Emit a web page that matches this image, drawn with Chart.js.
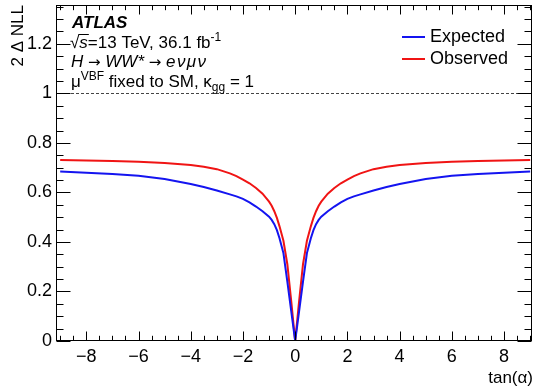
<!DOCTYPE html>
<html>
<head>
<meta charset="utf-8">
<title>2 Delta NLL vs tan(alpha)</title>
<script src="https://cdn.jsdelivr.net/npm/chart.js@4"></script>
<style>
	body { margin: 0; background: #ffffff; }
	#chartBox { width: 535px; height: 387px; }
</style>
</head>
<body>
<div id="chartBox"><canvas id="nllChart" width="535" height="387"></canvas></div>
<script>
// scan points in tan(alpha)
const tanAlpha = [-9, -8, -7, -6, -5, -4, -3.5, -3, -2.5, -2.25, -2, -1.75, -1.5, -1.25, -1, -0.9, -0.8, -0.7, -0.6, -0.45, -0.3, -0.15, 0,
	0.15, 0.3, 0.45, 0.6, 0.7, 0.8, 0.9, 1, 1.25, 1.5, 1.75, 2, 2.25, 2.5, 3, 3.5, 4, 5, 6, 7, 8, 9];

// 2 delta NLL, expected
const expectedNll = [0.685, 0.680, 0.674, 0.667, 0.654, 0.634, 0.622, 0.608, 0.592, 0.584, 0.574, 0.560, 0.543, 0.524, 0.502, 0.489, 0.472, 0.448, 0.415, 0.355, 0.240, 0.120, 0,
	0.120, 0.240, 0.355, 0.415, 0.448, 0.472, 0.489, 0.502, 0.524, 0.543, 0.560, 0.574, 0.584, 0.592, 0.608, 0.622, 0.634, 0.654, 0.667, 0.674, 0.680, 0.685];

// 2 delta NLL, observed
const observedNll = [0.731, 0.729, 0.727, 0.724, 0.719, 0.711, 0.704, 0.694, 0.677, 0.666, 0.652, 0.637, 0.618, 0.595, 0.563, 0.546, 0.524, 0.497, 0.463, 0.405, 0.310, 0.160, 0,
	0.160, 0.310, 0.405, 0.463, 0.497, 0.524, 0.546, 0.563, 0.595, 0.618, 0.637, 0.652, 0.666, 0.677, 0.694, 0.704, 0.711, 0.719, 0.724, 0.727, 0.729, 0.731];

const seriesNames = ["Expected", "Observed"];
const seriesColors = ["#1414f0", "#f01414"];

const xMin = -9.16, xMax = 9.07;
const yMin = 0, yMax = 1.357;
const xStep = 2, yStep = 0.2;

const fontFamily = "'Liberation Sans', Arial, Helvetica, sans-serif";

function toPoints(values){
	let pts = [];
	for(let i=0; i<tanAlpha.length; i++){
		pts.push({x: tanAlpha[i], y: values[i]});
	}
	return pts;
}

// draws a row of text pieces (normal, sup, sub) starting at x
function drawRuns(ctx, x, y, runs){
	ctx.textBaseline = "alphabetic";
	ctx.textAlign = "left";
	runs.forEach(r => {
		ctx.font = r.font;
		ctx.fillText(r.t, x, y + (r.dy || 0));
		let w = ctx.measureText(r.t).width;
		if(r.over){
			ctx.beginPath();
			ctx.lineWidth = 1;
			ctx.moveTo(x - 1, y - 13.5);
			ctx.lineTo(x + w + 1, y - 13.5);
			ctx.stroke();
		}
		x += w;
	});
}

// frame, ticks on all four sides and the dashed reference line
const rootFrame = {
	id: "rootFrame",
	beforeDatasetsDraw(chart){
		let ctx = chart.ctx;
		let area = chart.chartArea;
		let yS = chart.scales.y;
		let py = Math.round(yS.getPixelForValue(1)) + 0.5;
		ctx.save();
		ctx.strokeStyle = "#444444";
		ctx.lineWidth = 1;
		ctx.setLineDash([3, 2]);
		ctx.beginPath();
		ctx.moveTo(area.left, py);
		ctx.lineTo(area.right, py);
		ctx.stroke();
		ctx.restore();
	},
	afterDatasetsDraw(chart){
		let ctx = chart.ctx;
		let area = chart.chartArea;
		let xS = chart.scales.x;
		let yS = chart.scales.y;
		ctx.save();
		ctx.strokeStyle = "#000000";
		ctx.lineWidth = 1;
		let L = Math.round(area.left) + 0.5, R = Math.round(area.right) - 0.5;
		let T = Math.round(area.top) + 0.5, B = Math.round(area.bottom) - 0.5;
		ctx.strokeRect(L, T, R - L, B - T);

		ctx.beginPath();
		for(let k = Math.ceil(xMin * 2); k <= Math.floor(xMax * 2); k++){
			let v = k / 2;
			let px = Math.round(xS.getPixelForValue(v)) + 0.5;
			let len = (k % 4 === 0) ? 9 : 4.7;
			ctx.moveTo(px, B); ctx.lineTo(px, B - len);
			ctx.moveTo(px, T); ctx.lineTo(px, T + len);
		}
		for(let k = 0; k * 0.05 <= yMax; k++){
			let v = k * 0.05;
			let py = Math.round(yS.getPixelForValue(v)) + 0.5;
			let len = (k % 4 === 0) ? 14 : 7;
			ctx.moveTo(L, py); ctx.lineTo(L + len, py);
			ctx.moveTo(R, py); ctx.lineTo(R - len, py);
		}
		ctx.stroke();
		ctx.restore();
	},
	afterDraw(chart){
		let ctx = chart.ctx;
		ctx.save();
		ctx.fillStyle = "#000000";
		ctx.strokeStyle = "#000000";

		// axis titles
		ctx.font = "17px " + fontFamily;
		ctx.textAlign = "right";
		ctx.textBaseline = "alphabetic";
		ctx.fillText("tan(\u03b1)", 533, 383);
		ctx.save();
		ctx.translate(23, 5);
		ctx.rotate(-Math.PI / 2);
		ctx.textAlign = "right";
		ctx.fillText("2 \u0394 NLL", 0, 0);
		ctx.restore();

		// legend
		let ds = chart.data.datasets;
		ctx.font = "18px " + fontFamily;
		for(let i=0; i<ds.length; i++){
			let ly = 37 + i * 22;
			ctx.strokeStyle = ds[i].borderColor;
			ctx.lineWidth = 2;
			ctx.beginPath();
			ctx.moveTo(402, ly);
			ctx.lineTo(425, ly);
			ctx.stroke();
			ctx.textAlign = "left";
			ctx.textBaseline = "middle";
			ctx.fillText(ds[i].label, 430, ly);
		}

		// labels in the upper left corner
		ctx.strokeStyle = "#000000";
		let f = "17px " + fontFamily;
		let fi = "italic 17px " + fontFamily;
		let fs = "12px " + fontFamily;
		let fa = "15px 'DejaVu Sans', sans-serif";
		drawRuns(ctx, 72, 28, [{t: "ATLAS", font: "italic bold 17px " + fontFamily}]);
		drawRuns(ctx, 70, 48, [
			{t: "\u221a", font: f},
			{t: "s", font: fi, over: true},
			{t: "=13 TeV, 36.1 fb", font: f},
			{t: "-1", font: fs, dy: -7}
		]);
		drawRuns(ctx, 71, 67, [
			{t: "H ", font: fi},
			{t: "\u2192", font: fa},
			{t: " WW* ", font: fi},
			{t: "\u2192", font: fa},
			{t: " e\u200a\u03bd\u200a\u03bc\u200a\u03bd", font: fi}
		]);
		drawRuns(ctx, 71, 87, [
			{t: "\u03bc", font: f},
			{t: "VBF", font: fs, dy: -7},
			{t: " fixed to SM, \u03ba", font: f},
			{t: "gg", font: fs, dy: 4},
			{t: " = 1", font: f}
		]);
		ctx.restore();
	}
};

// drop the label overhang padding so the frame fills the canvas
function noOverhang(scale){
	scale.paddingTop = 0;
	scale.paddingBottom = 0;
	scale.paddingLeft = 0;
	scale.paddingRight = 0;
}

let ctxNll = document.getElementById("nllChart").getContext("2d");
let nllChart = new Chart(ctxNll, {
	type: "line",
	data: {
		datasets: [
			{
				label: seriesNames[0],
				data: toPoints(expectedNll),
				borderColor: seriesColors[0],
				borderWidth: 2,
				pointRadius: 0,
				tension: 0,
				fill: false
			},
			{
				label: seriesNames[1],
				data: toPoints(observedNll),
				borderColor: seriesColors[1],
				borderWidth: 2,
				pointRadius: 0,
				tension: 0,
				fill: false
			}
		]
	},
	options: {
		responsive: false,
		animation: false,
		devicePixelRatio: 1,
		layout: { padding: { top: 5, right: 3, left: 0, bottom: 0 } },
		plugins: {
			legend: { display: false },
			tooltip: { enabled: false }
		},
		scales: {
			x: {
				type: "linear",
				min: xMin,
				max: xMax,
				grid: { display: false, drawTicks: false },
				border: { display: false },
				afterFit: function(scale){ scale.height = 46; noOverhang(scale); },
				ticks: {
					stepSize: xStep,
					includeBounds: false,
					autoSkip: false,
					maxRotation: 0,
					padding: 5,
					color: "#000000",
					font: { size: 18, family: fontFamily },
					callback: function(v){ return v < 0 ? "\u2212" + Math.abs(v) : String(v); }
				}
			},
			y: {
				type: "linear",
				min: yMin,
				max: yMax,
				grid: { display: false, drawTicks: false },
				border: { display: false },
				afterFit: function(scale){ scale.width = 56; noOverhang(scale); },
				ticks: {
					stepSize: yStep,
					includeBounds: false,
					padding: 4,
					color: "#000000",
					font: { size: 18, family: fontFamily },
					callback: function(v){ return String(Math.round(v * 10) / 10); }
				}
			}
		}
	},
	plugins: [rootFrame]
});
</script>
</body>
</html>
